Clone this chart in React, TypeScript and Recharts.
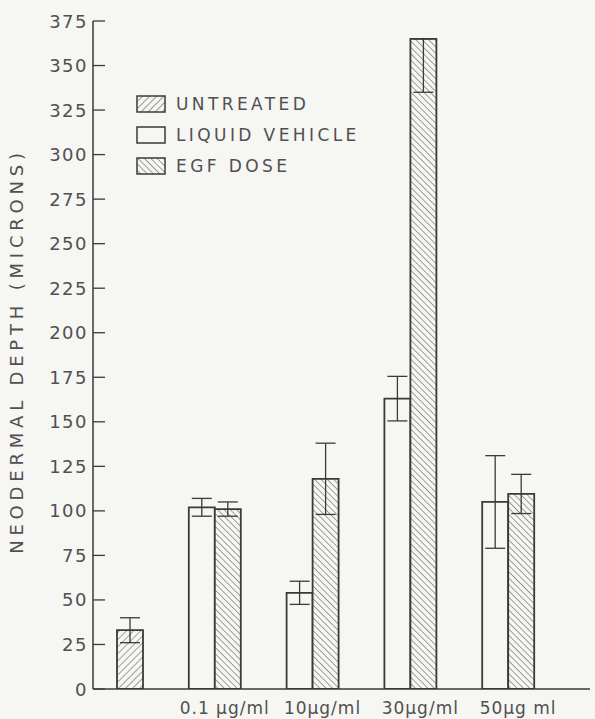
import { BarChart, Bar, XAxis, YAxis, ErrorBar, Legend } from 'recharts'

const categories = ['', '0.1 μg/ml', '10μg/ml', '30μg/ml', '50μg ml']
const untreated = [33, null, null, null, null]
const untreatedErr = [7, null, null, null, null]
const vehicle = [null, 102, 54, 163, 105]
const vehicleErr = [null, 5, 6.5, 12.5, 26]
const egf = [null, 101, 118, 365, 109.5]
const egfErr: (number | number[] | null)[] = [null, 4, 20, [30, 0], 11]
const yTicks = [0, 25, 50, 75, 100, 125, 150, 175, 200, 225, 250, 275, 300, 325, 350, 375]

const legendItems = [
  { label: 'UNTREATED', fill: 'url(#hatchUp)' },
  { label: 'LIQUID VEHICLE', fill: '#f6f6f3' },
  { label: 'EGF DOSE', fill: 'url(#hatchDown)' },
]

const INK = '#3a3a3a'
const TEXT = '#505050'
const FONT = '"DejaVu Sans", sans-serif'

const data = categories.map((c, i) => ({
  name: c,
  untreated: untreated[i],
  untreatedErr: untreatedErr[i],
  vehicle: vehicle[i],
  vehicleErr: vehicleErr[i],
  egf: egf[i],
  egfErr: egfErr[i],
}))

function LegendBox() {
  return (
    <div style={{ fontFamily: FONT, color: TEXT }}>
      {legendItems.map(item => (
        <div key={item.label} style={{ display: 'flex', alignItems: 'center', height: 31 }}>
          <svg width={30} height={18} style={{ marginRight: 10 }}>
            <rect x={1} y={1} width={28} height={16} fill={item.fill} stroke={INK} strokeWidth={1.5} />
          </svg>
          <span style={{ fontSize: 17, letterSpacing: 3.4 }}>{item.label}</span>
        </div>
      ))}
    </div>
  )
}

function YLabel(props: any) {
  const vb = props.viewBox
  const cy = vb.y + vb.height / 2 - 4
  return (
    <text
      x={16}
      y={cy}
      transform={`rotate(-90, 16, ${cy})`}
      textAnchor="middle"
      dominantBaseline="central"
      fill={TEXT}
      fontSize={18}
      letterSpacing={4.8}
      fontFamily={FONT}
    >
      NEODERMAL DEPTH (MICRONS)
    </text>
  )
}

// ticks point into the plot, labels sit left of the axis
function YTick(props: any) {
  const { x, y, payload } = props
  return (
    <g>
      <line x1={x} y1={y} x2={x + 12} y2={y} stroke={INK} strokeWidth={1.3} />
      <text
        x={x - 5}
        y={y}
        textAnchor="end"
        dominantBaseline="central"
        fill={TEXT}
        fontSize={18}
        letterSpacing={1.5}
        fontFamily={FONT}
      >
        {payload.value}
      </text>
    </g>
  )
}

export default function App() {
  return (
    <div style={{ position: 'absolute', left: 0, top: 0, width: 595, height: 719, background: '#f6f6f3' }}>
      <BarChart
        width={595}
        height={719}
        data={data}
        margin={{ top: 21, right: 5, bottom: 0, left: 0 }}
        barSize={26}
        barGap={0}
      >
        <defs>
          <pattern id="hatchUp" width={5} height={5} patternUnits="userSpaceOnUse" patternTransform="rotate(45)">
            <rect width={5} height={5} fill="#f6f6f3" />
            <line x1={0} y1={0} x2={0} y2={5} stroke="#555" strokeWidth={1.1} />
          </pattern>
          <pattern id="hatchDown" width={4.5} height={4.5} patternUnits="userSpaceOnUse" patternTransform="rotate(-45)">
            <rect width={4.5} height={4.5} fill="#f6f6f3" />
            <line x1={0} y1={0} x2={0} y2={4.5} stroke="#555" strokeWidth={1.1} />
          </pattern>
        </defs>
        <XAxis
          dataKey="name"
          height={30}
          padding={{ left: -25, right: 33 }}
          axisLine={{ stroke: INK, strokeWidth: 1.5 }}
          tickLine={false}
          tickSize={0}
          tickMargin={13}
          tick={{ fill: TEXT, fontSize: 17, fontFamily: FONT, dx: 10, letterSpacing: 1 }}
          interval={0}
        />
        <YAxis
          width={93}
          domain={[0, 375]}
          ticks={yTicks}
          allowDataOverflow
          axisLine={{ stroke: INK, strokeWidth: 1.5 }}
          tickLine={false}
          tickSize={0}
          tickMargin={0}
          tick={<YTick />}
          label={<YLabel />}
        />
        <Legend
          layout="vertical"
          align="center"
          verticalAlign="middle"
          wrapperStyle={{ left: 136, top: 88, width: 280 }}
          content={<LegendBox />}
        />
        <Bar dataKey="vehicle" stackId="a" fill="#f6f6f3" stroke={INK} strokeWidth={1.8} isAnimationActive={false}>
          <ErrorBar dataKey="vehicleErr" width={10} stroke={INK} strokeWidth={1.3} />
        </Bar>
        <Bar dataKey="untreated" stackId="b" fill="url(#hatchUp)" stroke={INK} strokeWidth={1.8} isAnimationActive={false}>
          <ErrorBar dataKey="untreatedErr" width={10} stroke={INK} strokeWidth={1.3} />
        </Bar>
        <Bar dataKey="egf" stackId="b" fill="url(#hatchDown)" stroke={INK} strokeWidth={1.8} isAnimationActive={false}>
          <ErrorBar dataKey="egfErr" width={10} stroke={INK} strokeWidth={1.3} />
        </Bar>
      </BarChart>
    </div>
  )
}
